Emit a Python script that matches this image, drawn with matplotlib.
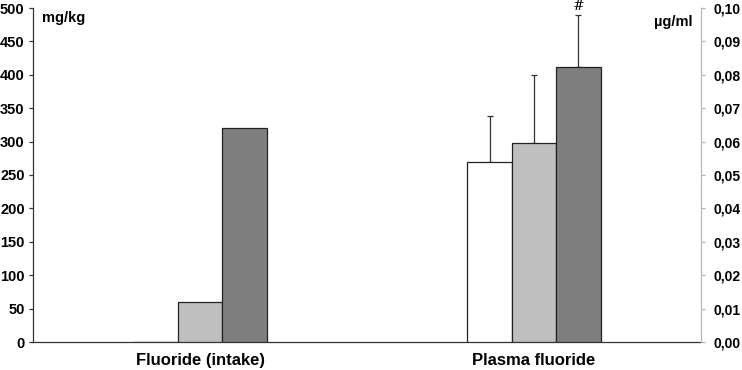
import numpy as np
import matplotlib.pyplot as plt

plt.rcParams['font.family'] = ['Liberation Sans', 'DejaVu Sans']
plt.rcParams['font.weight'] = 'bold'

categories = ["Fluoride (intake)", "Plasma fluoride"]
groups = ["control", "low", "high"]
colors = ["white", "#bfbfbf", "#7f7f7f"]

# fluoride intake, mg/kg (left axis)
intake = [0.5, 60, 320]
# plasma fluoride, ug/ml (right axis)
plasma = [0.054, 0.0597, 0.0823]
plasma_err = [0.0138, 0.0203, 0.0157]

fig = plt.figure(figsize=(7.42, 3.70), dpi=100)
ax = fig.add_axes([33/742, 28/370, 668/742, 334/370])
ax2 = ax.twinx()

w = 0.133
offsets = np.array([-1, 0, 1]) * w

for i in range(3):
    ax.bar(0 + offsets[i], intake[i], width=w, color=colors[i],
           edgecolor="#222222", linewidth=0.9, zorder=3)
    ax2.bar(1 + offsets[i], plasma[i], width=w, color=colors[i],
            edgecolor="#222222", linewidth=0.9, zorder=3)
    ax2.errorbar(1 + offsets[i], plasma[i], yerr=[[0], [plasma_err[i]]],
                 fmt="none", ecolor="#333333", elinewidth=0.9,
                 capsize=2, capthick=0.9, zorder=2)

ax2.text(1 + offsets[2], plasma[2] + plasma_err[2] + 0.0004, "#",
         ha="center", va="bottom", fontsize=10, fontweight="normal",
         family="DejaVu Serif")

ax.set_xlim(-0.5, 1.5)
ax.set_ylim(0, 500)
ax2.set_ylim(0, 0.1)

ax.set_yticks(np.arange(0, 501, 50))
ax2.set_yticks(np.arange(0, 0.101, 0.01))
ax2.set_yticklabels([("%.2f" % v).replace(".", ",") for v in np.arange(0, 0.101, 0.01)])

ax.set_xticks([0, 1])
ax.set_xticklabels(categories, fontsize=12, fontweight="bold")
ax.tick_params(axis="x", length=0, pad=8)
ax.tick_params(axis="y", direction="out", length=3, width=0.9,
               color="#333333", labelsize=10.5, pad=3)
ax2.tick_params(axis="y", direction="out", length=3, width=0.9,
                color="#b0b0b0", labelsize=10, pad=6)

for a in (ax, ax2):
    a.spines["top"].set_visible(False)
ax.spines["right"].set_visible(False)
ax2.spines["left"].set_visible(False)
ax2.spines["bottom"].set_visible(False)
ax.spines["left"].set_color("#333333")
ax.spines["bottom"].set_color("#333333")
ax.spines["left"].set_linewidth(0.9)
ax.spines["bottom"].set_linewidth(0.9)
ax2.spines["right"].set_color("#b8b8b8")
ax2.spines["right"].set_linewidth(0.9)

ax.text(0.013, 0.99, "mg/kg", transform=ax.transAxes, ha="left", va="top",
        fontsize=10.5, fontweight="bold")
ax2.text(0.988, 0.98, "µg/ml", transform=ax2.transAxes, ha="right", va="top",
         fontsize=10.5, fontweight="bold")

fig.savefig("out.png", dpi=100)
